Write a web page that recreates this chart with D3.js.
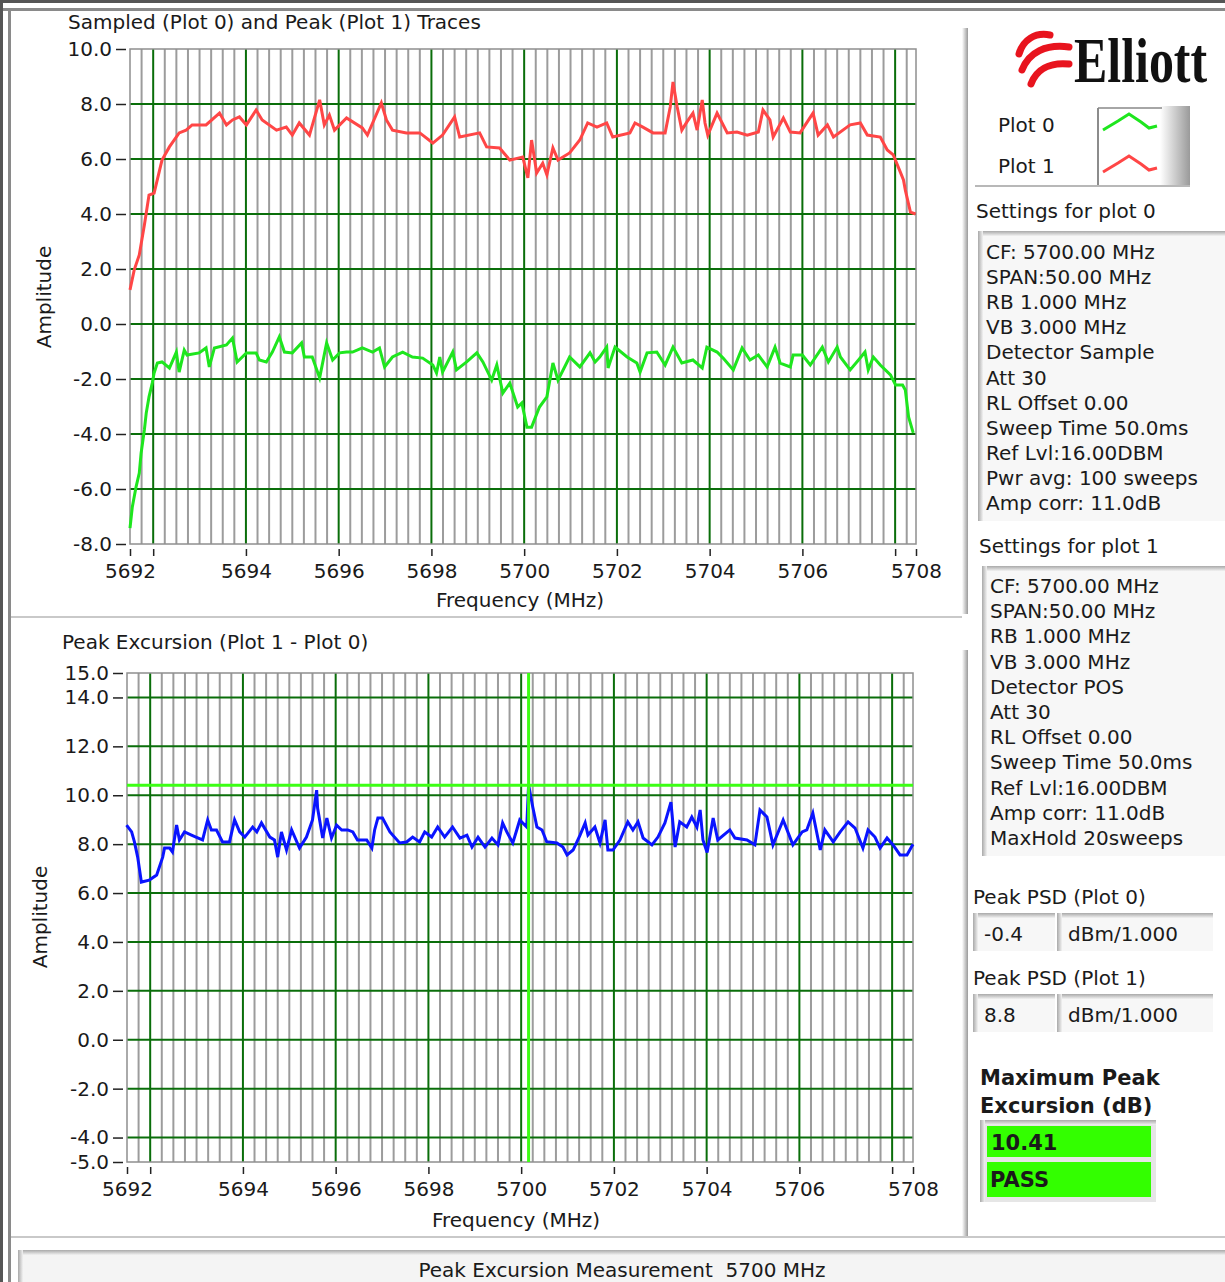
<!DOCTYPE html>
<html>
<head>
<meta charset="utf-8">
<script src="https://cdn.jsdelivr.net/npm/d3@7"></script>
<style>
  html, body { margin: 0; padding: 0; background: #fff; }
  svg { display: block; font-family: "DejaVu Sans", sans-serif; }
</style>
</head>
<body>
<svg id="panel" width="1225" height="1282"></svg>
<script>
/*************************************************************************/
// data

var freqDomain = [5691.5, 5708.45];
var freqTicks = [5691.5, 5692, 5694, 5696, 5698, 5700, 5702, 5704, 5706, 5708, 5708.45];

// Plot 0 : sampled trace (dBm)
var plot0 = [[5691.50,-7.42],[5691.55,-6.65],[5691.63,-5.93],[5691.70,-5.42],[5691.74,-4.69],[5691.81,-3.85],[5691.85,-3.24],[5691.91,-2.65],[5691.98,-2.15],[5692.02,-1.78],[5692.09,-1.42],[5692.19,-1.38],[5692.35,-1.60],[5692.50,-1.02],[5692.56,-1.75],[5692.67,-0.95],[5692.73,-1.13],[5692.99,-1.05],[5693.14,-0.87],[5693.21,-1.56],[5693.32,-0.87],[5693.58,-0.76],[5693.71,-0.51],[5693.81,-1.38],[5694.01,-1.05],[5694.22,-1.05],[5694.29,-1.31],[5694.44,-1.38],[5694.57,-1.02],[5694.72,-0.47],[5694.83,-1.02],[5695.00,-1.05],[5695.20,-0.69],[5695.26,-1.20],[5695.43,-1.20],[5695.59,-1.96],[5695.74,-0.69],[5695.87,-1.31],[5696.02,-1.05],[5696.17,-1.02],[5696.30,-1.02],[5696.51,-0.87],[5696.73,-1.02],[5696.88,-0.87],[5696.99,-1.56],[5697.16,-1.20],[5697.38,-1.02],[5697.59,-1.20],[5697.81,-1.24],[5698.03,-1.49],[5698.11,-1.78],[5698.18,-1.20],[5698.24,-1.75],[5698.46,-1.02],[5698.54,-1.67],[5698.76,-1.38],[5698.98,-1.05],[5699.11,-1.38],[5699.30,-2.04],[5699.41,-1.49],[5699.54,-2.51],[5699.69,-2.15],[5699.86,-3.02],[5699.95,-2.87],[5700.06,-3.75],[5700.16,-3.75],[5700.33,-3.02],[5700.49,-2.65],[5700.62,-1.42],[5700.73,-2.04],[5700.98,-1.20],[5701.20,-1.56],[5701.42,-1.05],[5701.53,-1.38],[5701.63,-1.20],[5701.78,-0.84],[5701.81,-1.60],[5701.96,-0.84],[5702.22,-1.20],[5702.43,-1.42],[5702.50,-1.75],[5702.65,-1.05],[5702.86,-1.02],[5703.04,-1.49],[5703.21,-0.84],[5703.40,-1.42],[5703.64,-1.31],[5703.84,-1.60],[5703.94,-0.84],[5704.16,-1.02],[5704.29,-1.24],[5704.51,-1.67],[5704.70,-0.87],[5704.87,-1.31],[5705.05,-1.13],[5705.24,-1.56],[5705.41,-0.84],[5705.52,-1.42],[5705.74,-1.56],[5705.80,-1.13],[5706.00,-1.13],[5706.17,-1.49],[5706.43,-0.84],[5706.56,-1.38],[5706.75,-0.84],[5706.82,-1.20],[5707.03,-1.67],[5707.21,-1.31],[5707.35,-1.02],[5707.42,-1.67],[5707.53,-1.20],[5707.68,-1.49],[5707.90,-1.85],[5708.01,-2.22],[5708.16,-2.22],[5708.22,-2.40],[5708.29,-3.38],[5708.39,-3.96]];

// Plot 1 : peak (max hold) trace (dBm)
var plot1 = [[5691.50,1.24],[5691.59,1.96],[5691.70,2.51],[5691.81,3.60],[5691.91,4.69],[5692.02,4.76],[5692.19,5.96],[5692.35,6.44],[5692.56,6.95],[5692.71,7.05],[5692.84,7.24],[5693.14,7.24],[5693.43,7.67],[5693.58,7.24],[5693.71,7.42],[5693.86,7.53],[5694.01,7.24],[5694.22,7.78],[5694.35,7.42],[5694.66,7.05],[5694.87,7.16],[5695.00,6.87],[5695.15,7.31],[5695.37,6.87],[5695.59,8.15],[5695.69,7.24],[5695.80,7.60],[5695.91,7.05],[5696.17,7.49],[5696.51,7.13],[5696.62,6.87],[5696.92,8.04],[5697.03,7.42],[5697.16,7.05],[5697.46,6.95],[5697.75,6.95],[5698.03,6.58],[5698.24,6.87],[5698.50,7.53],[5698.61,6.80],[5699.04,6.95],[5699.19,6.44],[5699.47,6.40],[5699.69,5.96],[5699.97,6.07],[5700.08,5.31],[5700.16,6.69],[5700.27,5.49],[5700.40,5.85],[5700.49,5.42],[5700.62,6.40],[5700.73,5.96],[5700.98,6.22],[5701.20,6.69],[5701.37,7.31],[5701.57,7.16],[5701.78,7.31],[5701.91,6.80],[5702.28,6.95],[5702.39,7.31],[5702.56,7.16],[5702.78,6.95],[5703.04,6.95],[5703.15,7.89],[5703.21,8.80],[5703.30,7.89],[5703.40,7.05],[5703.51,7.35],[5703.64,7.67],[5703.73,7.05],[5703.84,8.15],[5703.90,7.31],[5703.96,6.87],[5704.16,7.67],[5704.38,6.95],[5704.59,6.98],[5704.81,6.87],[5705.05,6.98],[5705.15,7.78],[5705.30,7.42],[5705.37,6.80],[5705.59,7.49],[5705.74,6.98],[5705.95,6.95],[5706.23,7.67],[5706.34,6.87],[5706.54,7.24],[5706.67,6.80],[5707.03,7.24],[5707.25,7.31],[5707.40,6.87],[5707.68,6.80],[5707.83,6.33],[5707.96,6.15],[5708.11,5.53],[5708.18,5.24],[5708.22,4.87],[5708.33,4.07],[5708.44,4.00]];

// Plot 1 - Plot 0 (dB)
var excursion = [[5691.49,8.78],[5691.60,8.50],[5691.66,8.09],[5691.73,7.47],[5691.81,6.45],[5691.98,6.53],[5692.14,6.74],[5692.27,7.47],[5692.31,7.84],[5692.42,7.84],[5692.48,7.68],[5692.57,8.78],[5692.63,8.17],[5692.74,8.50],[5692.89,8.37],[5693.00,8.28],[5693.13,8.17],[5693.24,8.99],[5693.32,8.58],[5693.43,8.58],[5693.56,8.09],[5693.71,8.09],[5693.82,8.99],[5693.93,8.50],[5694.04,8.29],[5694.21,8.70],[5694.30,8.50],[5694.40,8.87],[5694.58,8.29],[5694.68,8.17],[5694.75,7.47],[5694.83,8.50],[5694.94,7.76],[5695.05,8.58],[5695.22,7.84],[5695.37,8.29],[5695.50,8.99],[5695.59,10.21],[5695.61,9.48],[5695.72,8.25],[5695.81,9.07],[5695.91,8.25],[5696.02,8.78],[5696.13,8.58],[5696.26,8.58],[5696.37,8.50],[5696.47,8.17],[5696.67,8.17],[5696.78,7.84],[5696.84,8.58],[5696.91,9.07],[5697.01,9.07],[5697.17,8.50],[5697.38,8.05],[5697.53,8.09],[5697.66,8.29],[5697.81,8.09],[5697.92,8.50],[5698.07,8.29],[5698.20,8.70],[5698.35,8.29],[5698.52,8.70],[5698.68,8.25],[5698.83,8.37],[5698.94,7.88],[5699.07,8.28],[5699.22,7.88],[5699.37,8.25],[5699.50,7.97],[5699.60,8.87],[5699.69,8.50],[5699.82,8.05],[5699.97,8.99],[5700.12,8.70],[5700.16,10.42],[5700.25,9.52],[5700.34,8.70],[5700.45,8.58],[5700.55,8.10],[5700.77,8.05],[5700.90,7.88],[5700.99,7.56],[5701.12,7.76],[5701.27,8.37],[5701.38,8.87],[5701.44,8.37],[5701.59,8.70],[5701.70,8.05],[5701.81,8.99],[5701.87,7.76],[5701.98,7.76],[5702.13,8.17],[5702.30,8.91],[5702.41,8.58],[5702.52,8.91],[5702.63,8.25],[5702.82,7.97],[5702.95,8.29],[5703.10,8.87],[5703.23,9.72],[5703.32,7.88],[5703.42,8.91],[5703.57,8.70],[5703.68,9.11],[5703.79,8.70],[5703.86,9.40],[5703.92,8.17],[5704.01,7.66],[5704.14,9.07],[5704.24,8.17],[5704.50,8.58],[5704.61,8.25],[5704.87,8.17],[5705.04,7.97],[5705.15,9.40],[5705.30,9.11],[5705.43,7.97],[5705.65,8.99],[5705.86,7.97],[5706.06,8.50],[5706.16,8.58],[5706.29,9.27],[5706.45,7.76],[5706.55,8.58],[5706.73,8.09],[5706.88,8.50],[5707.05,8.91],[5707.20,8.66],[5707.37,7.84],[5707.48,8.58],[5707.63,8.29],[5707.74,7.84],[5707.89,8.25],[5708.02,7.97],[5708.17,7.56],[5708.32,7.56],[5708.45,8.00]];

var maxExcursion = 10.41;
var maxExcursionFreq = 5700.16;

var topTicks = [10, 8, 6, 4, 2, 0, -2, -4, -6, -8];
var topGrid = [8, 6, 4, 2, 0, -2, -4, -6];
var bottomTicks = [15, 14, 12, 10, 8, 6, 4, 2, 0, -2, -4, -5];
var bottomGrid = [14, 12, 10, 8, 6, 4, 2, 0, -2, -4];

var settings0 = ['CF: 5700.00 MHz', 'SPAN:50.00 MHz', 'RB 1.000 MHz', 'VB 3.000 MHz', 'Detector Sample', 'Att 30', 'RL Offset 0.00', 'Sweep Time 50.0ms', 'Ref Lvl:16.00DBM', 'Pwr avg: 100 sweeps', 'Amp corr: 11.0dB'];
var settings1 = ['CF: 5700.00 MHz', 'SPAN:50.00 MHz', 'RB 1.000 MHz', 'VB 3.000 MHz', 'Detector POS', 'Att 30', 'RL Offset 0.00', 'Sweep Time 50.0ms', 'Ref Lvl:16.00DBM', 'Amp corr: 11.0dB', 'MaxHold 20sweeps'];
var peakPsd = [{ label: 'Peak PSD (Plot 0)', value: '-0.4', unit: 'dBm/1.000' },
               { label: 'Peak PSD (Plot 1)', value: '8.8', unit: 'dBm/1.000' }];

var svg = d3.select('#panel');
var FS = 20;   // base font size

/*************************************************************************/

function Chart(cfg){
    this.cfg = cfg;
    this.g = svg.append('g');
    this.xScale = d3.scaleLinear().domain(freqDomain).range(cfg.xRange);
    this.yScale = d3.scaleLinear().domain(cfg.yDomain).range(cfg.yRange);
    this.lineGen = d3.line().x(d => this.xScale(d[0])).y(d => this.yScale(d[1]));
    this.create();
}

/*************************************************************************/

Chart.prototype.create = function(){
    var c = this.cfg, x = this.xScale, y = this.yScale;
    var x0 = c.xRange[0], x1 = c.xRange[1], y0 = c.yRange[1], y1 = c.yRange[0];

    this.g.append('rect').attr('x', x0).attr('y', y0).attr('width', x1 - x0).attr('height', y1 - y0).attr('fill', '#fff');

    // minor grid every 0.25 MHz
    var minor = d3.range(1, 68).map(i => freqDomain[0] + i * 0.25).filter(f => f < freqDomain[1] && (f % 2 != 0));
    this.g.selectAll('.minor').data(minor).enter().append('line')
      .attr('x1', d => x(d)).attr('x2', d => x(d)).attr('y1', y0).attr('y2', y1)
      .attr('stroke', '#9c9c9c').attr('stroke-width', 2);

    var major = d3.range(5692, 5709, 2);
    this.g.selectAll('.majorX').data(major).enter().append('line')
      .attr('x1', d => x(d)).attr('x2', d => x(d)).attr('y1', y0).attr('y2', y1)
      .attr('stroke', '#0a6e0a').attr('stroke-width', 2);
    this.g.selectAll('.majorY').data(c.yGrid).enter().append('line')
      .attr('x1', x0).attr('x2', x1).attr('y1', d => y(d)).attr('y2', d => y(d))
      .attr('stroke', '#0a6e0a').attr('stroke-width', 2);

    this.g.append('rect').attr('x', x0).attr('y', y0).attr('width', x1 - x0).attr('height', y1 - y0)
      .attr('fill', 'none').attr('stroke', '#8f8f8f').attr('stroke-width', 1.5);

    // axes
    var xAxis = d3.axisBottom(x).tickValues(freqTicks).tickSize(7).tickPadding(8)
      .tickFormat(d => (d == 5692 || d == 5708) ? '' : Math.round(d));
    this.g.append('g').attr('transform', 'translate(0,' + (y1 + 5) + ')').call(xAxis)
      .call(g => g.select('.domain').remove())
      .attr('font-size', FS).attr('font-family', null);

    var yAxis = d3.axisLeft(y).tickValues(c.yTicks).tickSize(10).tickPadding(4)
      .tickFormat(d => d.toFixed(1));
    this.g.append('g').attr('transform', 'translate(' + (x0 - 4) + ',0)').call(yAxis)
      .call(g => g.select('.domain').remove())
      .attr('font-size', FS).attr('font-family', null);
    this.g.selectAll('.tick line').attr('stroke', '#222').attr('stroke-width', 1.5);
    this.g.selectAll('.tick text').attr('fill', '#1a1a1a');

    // labels
    this.g.append('text').attr('x', c.title[0]).attr('y', c.title[1] + 7).attr('font-size', FS).attr('fill', '#1a1a1a').text(c.title[2]);
    this.g.append('text').attr('x', c.xLabel[0]).attr('y', c.xLabel[1] + 7).attr('text-anchor', 'middle')
      .attr('font-size', FS).attr('fill', '#1a1a1a').text('Frequency (MHz)');
    this.g.append('text').attr('transform', 'translate(' + (c.yLabel[0] + 7) + ',' + c.yLabel[1] + ') rotate(-90)')
      .attr('text-anchor', 'middle').attr('font-size', FS).attr('fill', '#1a1a1a').text('Amplitude');
}

/*************************************************************************/

Chart.prototype.trace = function(data, color){
    this.g.append('path').attr('d', this.lineGen(data))
      .attr('fill', 'none').attr('stroke', color).attr('stroke-width', 3).attr('stroke-linejoin', 'miter');
}

/*************************************************************************/

Chart.prototype.cursor = function(fx, vy, color){
    var c = this.cfg;
    this.g.append('line').attr('x1', c.xRange[0]).attr('x2', c.xRange[1])
      .attr('y1', this.yScale(vy)).attr('y2', this.yScale(vy)).attr('stroke', color).attr('stroke-width', 3);
    this.g.append('line').attr('x1', this.xScale(fx)).attr('x2', this.xScale(fx))
      .attr('y1', c.yRange[1]).attr('y2', c.yRange[0]).attr('stroke', color).attr('stroke-width', 3);
}

/*************************************************************************/
// window frame & panels

var defs = svg.append('defs');
function grad(id, x2, y2, c0, c1){
    var gr = defs.append('linearGradient').attr('id', id).attr('x1', 0).attr('y1', 0).attr('x2', x2).attr('y2', y2);
    gr.append('stop').attr('offset', 0).attr('stop-color', c0);
    gr.append('stop').attr('offset', 1).attr('stop-color', c1);
}
grad('shadeTop', 0, 1, '#a9a9a9', '#f2f2f2');
grad('shadeLeft', 1, 0, '#a9a9a9', '#f2f2f2');
grad('bevel', 1, 0, '#ffffff', '#9a9a9a');

svg.append('rect').attr('width', 1225).attr('height', 1282).attr('fill', '#fff');

function inset(x, y, w, h, fill){
    svg.append('rect').attr('x', x).attr('y', y).attr('width', w).attr('height', h).attr('fill', fill);
    svg.append('rect').attr('x', x).attr('y', y).attr('width', w).attr('height', 5).attr('fill', 'url(#shadeTop)');
    svg.append('rect').attr('x', x).attr('y', y).attr('width', 5).attr('height', h).attr('fill', 'url(#shadeLeft)');
}

function label(x, y, txt, size, weight){
    return svg.append('text').attr('x', x).attr('y', y + Math.round(size * 0.36))
      .attr('font-size', size).attr('font-weight', weight || 'normal').attr('fill', '#1a1a1a').text(txt);
}

// outer frame
svg.append('rect').attr('x', 0).attr('y', 0).attr('width', 1225).attr('height', 3).attr('fill', '#555');
svg.append('rect').attr('x', 0).attr('y', 8).attr('width', 1225).attr('height', 3).attr('fill', '#8a8a8a');
svg.append('rect').attr('x', 0).attr('y', 0).attr('width', 3).attr('height', 1282).attr('fill', '#555');
svg.append('rect').attr('x', 8).attr('y', 8).attr('width', 3).attr('height', 1274).attr('fill', '#8a8a8a');

// separators
svg.append('rect').attr('x', 11).attr('y', 616).attr('width', 951).attr('height', 2).attr('fill', '#c9c9c9');
svg.append('rect').attr('x', 11).attr('y', 1236).attr('width', 1214).attr('height', 2).attr('fill', '#c9c9c9');
svg.append('rect').attr('x', 962).attr('y', 28).attr('width', 6).attr('height', 586).attr('fill', 'url(#bevel)');
svg.append('rect').attr('x', 962).attr('y', 650).attr('width', 6).attr('height', 586).attr('fill', 'url(#bevel)');

/*************************************************************************/
// charts

var topChart = new Chart({
    xRange: [130, 916], yDomain: [-8, 10], yRange: [544, 49],
    yTicks: topTicks, yGrid: topGrid,
    title: [68, 22, 'Sampled (Plot 0) and Peak (Plot 1) Traces'],
    xLabel: [520, 600], yLabel: [44, 297]
});
topChart.trace(plot1, '#ff4646');
topChart.trace(plot0, '#1ee61e');

var bottomChart = new Chart({
    xRange: [127, 913], yDomain: [-5, 15], yRange: [1162, 673],
    yTicks: bottomTicks, yGrid: bottomGrid,
    title: [62, 642, 'Peak Excursion (Plot 1 - Plot 0)'],
    xLabel: [516, 1220], yLabel: [40, 917]
});
bottomChart.trace(excursion, '#0a14ff');
bottomChart.cursor(maxExcursionFreq, maxExcursion, '#3cff14');

/*************************************************************************/
// logo

var logo = svg.append('g').attr('fill', 'none').attr('stroke', '#e8141e').attr('stroke-width', 7).attr('stroke-linecap', 'round');
logo.append('path').attr('d', 'M1019,54 C1023,40 1035,32 1050,35');
logo.append('path').attr('d', 'M1022,70 C1029,52 1046,44 1069,47');
logo.append('path').attr('d', 'M1031,84 C1036,70 1049,62 1069,64');
// squeeze the word mark horizontally instead of stretching glyph spacing
svg.append('g').attr('transform', 'translate(1074,82) scale(0.78,1)')
  .append('text').attr('x', 0).attr('y', 0).attr('font-family', '"Liberation Serif", serif').attr('font-weight', 'bold')
  .attr('font-size', 64).attr('fill', '#111').text('Elliott');

// legend
label(998, 125, 'Plot 0', FS);
label(998, 166, 'Plot 1', FS);
svg.append('rect').attr('x', 1160).attr('y', 106).attr('width', 30).attr('height', 80).attr('fill', 'url(#bevel)');
svg.append('line').attr('x1', 1098).attr('x2', 1098).attr('y1', 108).attr('y2', 186).attr('stroke', '#666').attr('stroke-width', 1.5);
svg.append('line').attr('x1', 1098).attr('x2', 1162).attr('y1', 108).attr('y2', 108).attr('stroke', '#888').attr('stroke-width', 1.5);
svg.append('line').attr('x1', 975).attr('x2', 1190).attr('y1', 186).attr('y2', 186).attr('stroke', '#b8b8b8').attr('stroke-width', 2);
var zig = d3.line();
svg.append('path').attr('d', zig([[1103, 130], [1118, 121], [1129, 114], [1141, 122], [1149, 128], [1157, 126]]))
  .attr('fill', 'none').attr('stroke', '#1ee61e').attr('stroke-width', 3);
svg.append('path').attr('d', zig([[1103, 172], [1118, 163], [1129, 156], [1141, 164], [1149, 170], [1157, 168]]))
  .attr('fill', 'none').attr('stroke', '#ff4646').attr('stroke-width', 3);

// settings
label(976, 211, 'Settings for plot 0', FS);
inset(978, 231, 247, 290, '#f7f7f7');
settings0.forEach((s, i) => label(986, 252 + i * 25.1, s, FS));

label(979, 546, 'Settings for plot 1', FS);
inset(982, 566, 243, 290, '#f7f7f7');
settings1.forEach((s, i) => label(990, 586 + i * 25.2, s, FS));

// peak PSD indicators
peakPsd.forEach((p, i) => {
    var y0 = 897 + i * 81;
    label(973, y0, p.label, FS);
    inset(973, y0 + 16, 82, 38, '#f7f7f7');
    inset(1057, y0 + 16, 156, 38, '#f7f7f7');
    label(984, y0 + 37, p.value, FS);
    label(1068, y0 + 37, p.unit, FS);
});

// max peak excursion
label(980, 1077, 'Maximum Peak', 21, 'bold');
label(980, 1105, 'Excursion (dB)', 21, 'bold');
inset(980, 1120, 176, 82, '#e6e6e6');
svg.append('rect').attr('x', 987).attr('y', 1126).attr('width', 164).attr('height', 31).attr('fill', '#33ff00');
svg.append('rect').attr('x', 987).attr('y', 1162).attr('width', 164).attr('height', 35).attr('fill', '#33ff00');
label(991, 1142, maxExcursion.toFixed(2), 21, 'bold');
label(990, 1179, 'PASS', 21, 'bold');

// status line
inset(18, 1250, 1207, 32, '#f4f4f4');
label(622, 1270, 'Peak Excursion Measurement  5700 MHz', FS)
  .attr('text-anchor', 'middle').style('white-space', 'pre');
</script>
</body>
</html>
